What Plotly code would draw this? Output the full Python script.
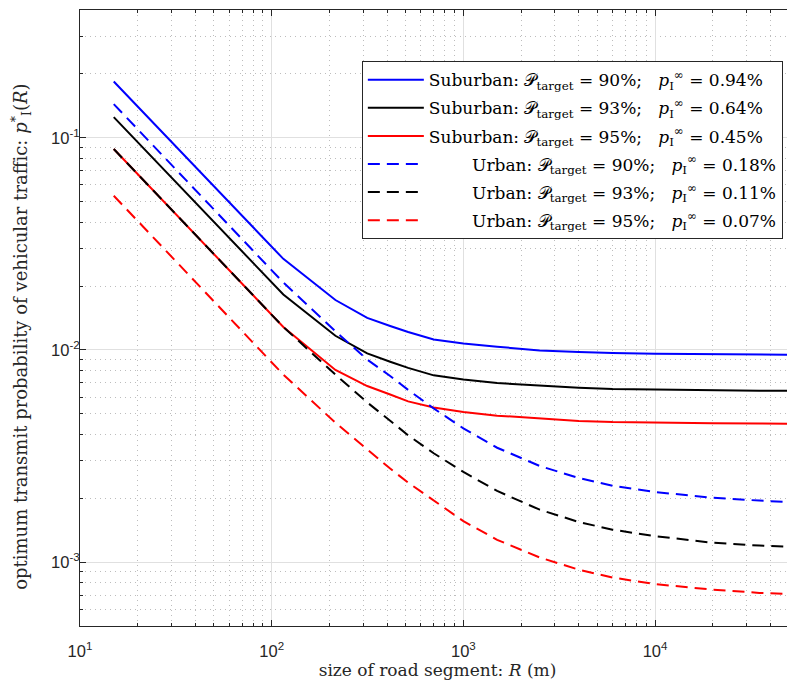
import plotly.graph_objects as go

# Road segment sizes R (m)
R = [15, 115, 215, 315, 415, 515, 700, 1000, 1500, 2500, 4000, 6000, 10000, 20000, 35000, 55000]

# Optimum transmit probability p_I*(R)
sub_90 = [0.1840, 0.02686, 0.01719, 0.01417, 0.01297, 0.01214, 0.01120, 0.01073, 0.01035, 0.00995,
          0.00979, 0.00967, 0.00960, 0.00954, 0.00952, 0.00949]
sub_93 = [0.1251, 0.01825, 0.01166, 0.00963, 0.00880, 0.00823, 0.00759, 0.00726, 0.00698, 0.00678,
          0.00664, 0.00655, 0.00650, 0.00645, 0.00643, 0.00642]
sub_95 = [0.0885, 0.01283, 0.00805, 0.00676, 0.00617, 0.00572, 0.00535, 0.00510, 0.00490, 0.00474,
          0.00463, 0.00457, 0.00453, 0.00451, 0.00450, 0.00449]
urb_90 = [0.1441, 0.02078, 0.01225, 0.00901, 0.00754, 0.00648, 0.00530, 0.00427, 0.00346, 0.00284,
          0.00249, 0.00229, 0.00214, 0.00201, 0.00195, 0.00191]
urb_93 = [0.0885, 0.01283, 0.00765, 0.00566, 0.00464, 0.00396, 0.00326, 0.00266, 0.002165, 0.001767,
          0.001546, 0.001422, 0.001326, 0.001234, 0.001197, 0.001176]
urb_95 = [0.0533, 0.00765, 0.00454, 0.00338, 0.00276, 0.00237, 0.00195, 0.00156, 0.001274, 0.001052,
          0.000921, 0.000846, 0.000788, 0.000742, 0.000716, 0.000705]

# Axis ticks
x_ticks = [10, 100, 1000, 10000]
x_ticklabels = ["10<sup>1</sup>", "10<sup>2</sup>", "10<sup>3</sup>", "10<sup>4</sup>"]
y_ticks = [0.001, 0.01, 0.1]
y_ticklabels = ["10<sup>-3</sup>", "10<sup>-2</sup>", "10<sup>-1</sup>"]

x_title = "size of road segment: <i>R</i> (m)"
y_title = "optimum transmit probability of vehicular traffic: <i>p</i><sup>*</sup><sub>I</sub>(<i>R</i>)"

NB = "\u00a0"
labels = [
    f"Suburban: 𝒫<sub>target</sub> = 90%;{NB*3}<i>p</i><sub>I</sub><sup>∞</sup> = 0.94%",
    f"Suburban: 𝒫<sub>target</sub> = 93%;{NB*3}<i>p</i><sub>I</sub><sup>∞</sup> = 0.64%",
    f"Suburban: 𝒫<sub>target</sub> = 95%;{NB*3}<i>p</i><sub>I</sub><sup>∞</sup> = 0.45%",
    f"{NB*8}Urban: 𝒫<sub>target</sub> = 90%;{NB*3}<i>p</i><sub>I</sub><sup>∞</sup> = 0.18%",
    f"{NB*8}Urban: 𝒫<sub>target</sub> = 93%;{NB*3}<i>p</i><sub>I</sub><sup>∞</sup> = 0.11%",
    f"{NB*8}Urban: 𝒫<sub>target</sub> = 95%;{NB*3}<i>p</i><sub>I</sub><sup>∞</sup> = 0.07%",
]
series = [sub_90, sub_93, sub_95, urb_90, urb_93, urb_95]
colors = ["#0000ff", "#000000", "#ff0000", "#0000ff", "#000000", "#ff0000"]
dashes = ["solid", "solid", "solid", "12px,7px", "12px,7px", "12px,7px"]

fig = go.Figure()
for i, (ys, lab, c, d) in enumerate(zip(series, labels, colors, dashes)):
    fig.add_trace(go.Scatter(
        x=R, y=ys, mode="lines", name=lab, legendgroup=str(i),
        line=dict(color=c, width=2, dash=d),
    ))

serif = "DejaVu Serif, Liberation Serif, serif"
sans = "Liberation Sans, Arial, sans-serif"

x_minor = [m * 10 ** e for e in range(1, 5) for m in range(2, 10)]
y_minor = [m * 10.0 ** e for e in range(-4, 0) for m in range(2, 10)]

def axis_style(tickvals, ticktext, minorvals, standoff):
    return dict(
        type="log", tickmode="array", tickvals=tickvals, ticktext=ticktext,
        showline=True, linecolor="#262626", linewidth=1,
        ticks="inside", ticklen=6, tickcolor="#262626", automargin=False,
        ticklabelstandoff=standoff,
        showgrid=True, gridcolor="#e0e0e0", gridwidth=1, zeroline=False,
        tickfont=dict(family=sans, size=16.5, color="#262626"),
        minor=dict(tickmode="array", tickvals=minorvals, ticks="inside", ticklen=3,
                   tickcolor="#262626", showgrid=True, gridcolor="#bdbdbd",
                   griddash="1px,4px", gridwidth=1),
    )

fig.update_layout(
    width=795, height=684,
    margin=dict(l=72, r=8, t=2, b=66),
    paper_bgcolor="white", plot_bgcolor="white",
    xaxis=dict(axis_style(x_ticks, x_ticklabels, x_minor, 10), range=[1, 4.73], mirror="ticks",
               title=dict(text=x_title,
                          font=dict(family=serif, size=17, color="#262626"), standoff=2)),
    yaxis=dict(axis_style(y_ticks, y_ticklabels, y_minor, -4), range=[-3.301, -0.398]),
    legend=dict(x=0.983, y=0.917, xanchor="right", yanchor="top",
                bgcolor="white", bordercolor="#262626", borderwidth=1,
                font=dict(family=serif, size=17, color="#000000"),
                tracegroupgap=3, itemwidth=56, traceorder="grouped"),
    showlegend=True,
    annotations=[dict(text=y_title, xref="paper", yref="paper", x=-0.082, y=0.47,
                      xanchor="center", yanchor="middle", textangle=-90, showarrow=False,
                      font=dict(family=serif, size=18, color="#262626"))],
)

fig.write_html("out.html")
